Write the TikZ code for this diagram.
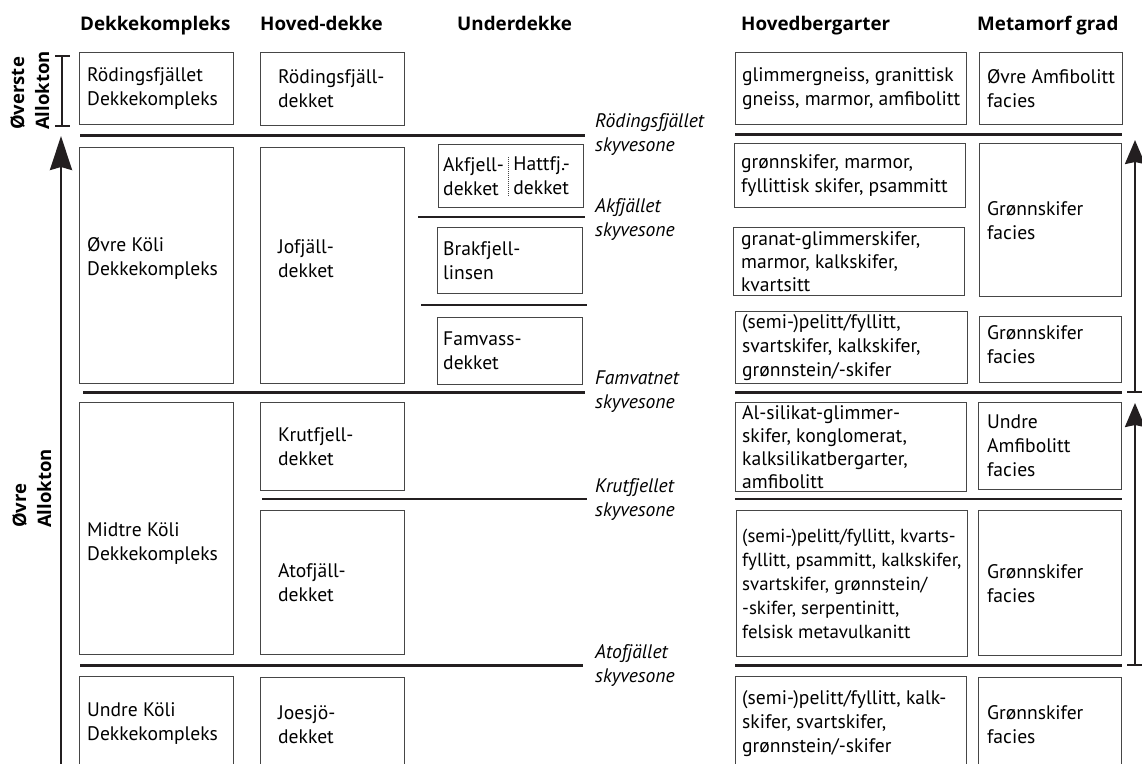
\documentclass[tikz,border=0pt]{standalone}
\usepackage{fontspec}
\setmainfont{PT Sans}
\newfontfamily\hodefont{Open Sans}
\usepackage{xcolor}
\definecolor{strek}{RGB}{35,31,32}
\definecolor{ramme}{RGB}{70,70,70}
\usepackage{tikz}
\usetikzlibrary{arrows.meta,positioning,calc}

\begin{document}
\begin{tikzpicture}[
  x=1pt, y=-1pt,
  every node/.style={font=\fontsize{19.6}{24}\selectfont},
  boks/.style={rectangle,draw=ramme,line width=1.3pt,anchor=north west,inner sep=0pt},
  tekst/.style={anchor=west,align=left,inner sep=0pt},
  hode/.style={anchor=base west,inner sep=0pt,font=\hodefont\fontsize{18.8}{24}\selectfont\bfseries},
  sone/.style={anchor=west,align=left,inner sep=0pt,font=\fontsize{19.6}{24}\selectfont\itshape},
  rot/.style={rotate=90,anchor=north west,align=left,inner sep=0pt,font=\hodefont\fontsize{18.5}{25}\selectfont\bfseries},
  tykk/.style={draw=strek,line width=3pt},
  mid/.style={draw=strek,line width=2.4pt},
  tynn/.style={draw=strek,line width=1.9pt},
  pil/.style={draw=strek,line width=2.6pt,-{Stealth[length=34pt,width=22pt,inset=3pt]}},
  pilh/.style={draw=strek,line width=2.4pt,-{Stealth[length=24pt,width=20pt,inset=2pt]}}
]
  \useasboundingbox (0,0) rectangle (1142,763);
  \clip (0,0) rectangle (1142,763);

  % overskrifter
  \node[hode] (hk) at (80,30) {Dekkekompleks};
  \node[hode] (hh) at (260,30) {Hoved-dekke};
  \node[hode] (hu) at (457,30) {Underdekke};
  \node[hode] (hb) at (741,30) {Hovedbergarter};
  \node[hode] (hm) at (977,30) {Metamorf grad};

  % dekkekompleks
  \node[boks,minimum width=154,minimum height=72] (k1) at (79,52) {};
  \node[tekst] (k1t) at ([xshift=8]k1.west) {Rödingsfjället\\Dekkekompleks};
  \node[boks,minimum width=154,minimum height=236] (k2) at (79,147) {};
  \node[tekst] (k2t) at ([xshift=8,yshift=7]k2.west) {Øvre Köli\\Dekkekompleks};
  \node[boks,minimum width=154,minimum height=252] (k3) at (79,402) {};
  \node[tekst] (k3t) at ([xshift=8,yshift=-15]k3.west) {Midtre Köli\\Dekkekompleks};
  \node[boks,minimum width=154,minimum height=94] (k4) at (79,676) {};
  \node[tekst] (k4t) at ([xshift=8]k4.west) {Undre Köli\\Dekkekompleks};

  % hoved-dekke
  \node[boks,minimum width=144,minimum height=73] (h1) at (260,52) {};
  \node[tekst] (h1t) at ([xshift=18]h1.west) {Rödingsfjäll-\\dekket};
  \node[boks,minimum width=144,minimum height=236] (h2) at (260,147) {};
  \node[tekst] (h2t) at ([xshift=18,yshift=7]h2.west) {Jofjäll-\\dekket};
  \node[boks,minimum width=144,minimum height=88] (h3) at (260,402) {};
  \node[tekst] (h3t) at ([xshift=18]h3.west) {Krutfjell-\\dekket};
  \node[boks,minimum width=144,minimum height=144] (h4) at (260,510) {};
  \node[tekst] (h4t) at ([xshift=18]h4.west) {Atofjäll-\\dekket};
  \node[boks,minimum width=144,minimum height=94] (h5) at (260,677) {};
  \node[tekst] (h5t) at ([xshift=18]h5.west) {Joesjö-\\dekket};

  % underdekke
  \node[boks,minimum width=145,minimum height=63] (u1) at (438,144) {};
  \node[tekst] (ak) at ([xshift=5]u1.west) {Akfjell-\\dekket};
  \node[tekst] (ha) at ([xshift=9]ak.east) {Hattfj.-\\dekket};
  \draw[ramme,line width=1pt,densely dotted] ([xshift=4.5]ak.north east) -- ([xshift=4.5]ak.south east);
  \node[boks,minimum width=145,minimum height=66] (u2) at (437,227) {};
  \node[tekst] (u2t) at ([xshift=6]u2.west) {Brakfjell-\\linsen};
  \node[boks,minimum width=145,minimum height=67] (u3) at (437,317) {};
  \node[tekst] (u3t) at ([xshift=6]u3.west) {Famvass-\\dekket};

  % skyvesoner
  \node[sone] (s1) at (595,135) {Rödingsfjället\\skyvesone};
  \node[sone] (s2) at (595,220) {Akfjället\\skyvesone};
  \node[sone] (s3) at (595,392) {Famvatnet\\skyvesone};
  \node[sone] (s4) at (595,500) {Krutfjellet\\skyvesone};
  \node[sone] (s5) at (595,666) {Atofjället\\skyvesone};

  % hovedbergarter
  \node[boks,minimum width=231,minimum height=72] (r1) at (735,52) {};
  \node[tekst] (r1t) at ([xshift=7]r1.west) {glimmergneiss, granittisk\\gneiss, marmor, amfibolitt};
  \node[boks,minimum width=231,minimum height=64] (r2) at (734,143) {};
  \node[tekst] (r2t) at ([xshift=7]r2.west) {grønnskifer, marmor,\\fyllittisk skifer, psammitt};
  \node[boks,minimum width=231,minimum height=68] (r3) at (733,227) {};
  \node[tekst,font=\fontsize{19.6}{23}\selectfont] (r3t) at ([xshift=8]r3.west) {granat-glimmerskifer,\\marmor, kalkskifer,\\kvartsitt};
  \node[boks,minimum width=232,minimum height=72] (r4) at (735,311) {};
  \node[tekst] (r4t) at ([xshift=7]r4.west) {(semi-)pelitt/fyllitt,\\svartskifer, kalkskifer,\\grønnstein/-skifer};
  \node[boks,minimum width=231,minimum height=89] (r5) at (735,402) {};
  \node[tekst,font=\fontsize{19.6}{23}\selectfont] (r5t) at ([xshift=7]r5.west) {Al-silikat-glimmer-\\skifer, konglomerat,\\kalksilikatbergarter,\\amfibolitt};
  \node[boks,minimum width=231,minimum height=146] (r6) at (736,510) {};
  \node[tekst,font=\fontsize{18.9}{24}\selectfont] (r6t) at ([xshift=6]r6.west) {(semi-)pelitt/fyllitt, kvarts-\\fyllitt, psammitt, kalkskifer,\\svartskifer, grønnstein/\\-skifer, serpentinitt,\\felsisk metavulkanitt};
  \node[boks,minimum width=231,minimum height=94] (r7) at (735,676) {};
  \node[tekst] (r7t) at ([xshift=7]r7.west) {(semi-)pelitt/fyllitt, kalk-\\skifer, svartskifer,\\grønnstein/-skifer};

  % metamorf grad
  \node[boks,minimum width=143,minimum height=72] (m1) at (979,52) {};
  \node[tekst] (m1t) at ([xshift=8]m1.west) {Øvre Amfibolitt\\facies};
  \node[boks,minimum width=142,minimum height=153] (m2) at (979,143) {};
  \node[tekst] (m2t) at ([xshift=8]m2.west) {Grønnskifer\\facies};
  \node[boks,minimum width=142,minimum height=66] (m3) at (979,316) {};
  \node[tekst] (m3t) at ([xshift=8,yshift=5]m3.west) {Grønnskifer\\facies};
  \node[boks,minimum width=143,minimum height=87] (m4) at (978,402) {};
  \node[tekst] (m4t) at ([xshift=9]m4.west) {Undre\\Amfibolitt\\facies};
  \node[boks,minimum width=143,minimum height=145] (m5) at (978,510) {};
  \node[tekst] (m5t) at ([xshift=9]m5.west) {Grønnskifer\\facies};
  \node[boks,minimum width=143,minimum height=94] (m6) at (978,677) {};
  \node[tekst] (m6t) at ([xshift=9]m6.west) {Grønnskifer\\facies};

  % grenser
  \draw[tykk] (80,135) -- (585,135);
  \draw[tykk] (735,134) -- (1122,134);
  \draw[tynn] (418,217) -- (585,217);
  \draw[tynn] (421,305) -- (587,305);
  \draw[tykk] (83,392) -- (585,392);
  \draw[tykk] (735,392) -- (1122,392);
  \draw[tynn] (262,499) -- (587,499);
  \draw[mid] (735,499) -- (1122,499);
  \draw[tykk] (80,665) -- (583,665);
  \draw[tykk] (735,665) -- (1122,665);

  % allokton
  \node[rot] (oa) at (10,130) {Øverste\\Allokton};
  \node[rot] (ua) at (12,528) {Øvre\\Allokton};
  \draw[strek,line width=2pt] (55,56) -- (70,56) (62,56) -- (62,126) (55,126) -- (70,126);
  \draw[pil] (61,770) -- (61,136);

  % metamorf gradient
  \draw[strek,line width=2pt] (1127,392) -- (1145,392) (1127,665) -- (1145,665);
  \draw[pilh] (1135,392) -- (1135,140);
  \draw[pilh] (1135,665) -- (1135,403);
\end{tikzpicture}
\end{document}
